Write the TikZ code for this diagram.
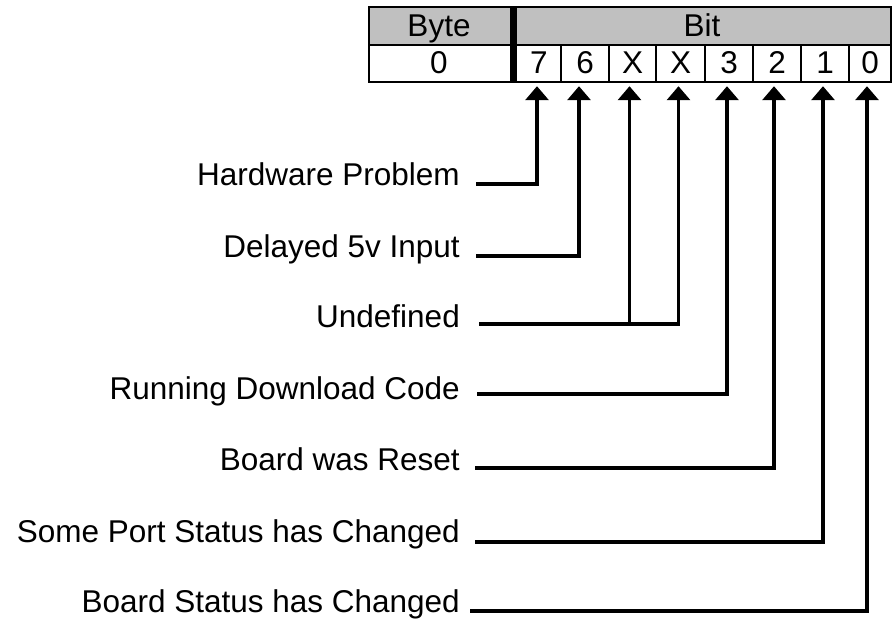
\documentclass[tikz,border=0pt]{standalone}
\usepackage{fontspec}
\setmainfont{Liberation Sans}
\usetikzlibrary{arrows.meta}
\definecolor{hdr}{RGB}{192,192,192}
\begin{document}
\begin{tikzpicture}[x=1pt,y=-1pt,
  font=\fontsize{31.5}{36}\selectfont,
  cell/.style={inner sep=0pt, text height=20pt, text depth=0pt, minimum height=37pt},
  lab/.style={anchor=base east, inner sep=0pt},
  conn/.style={line width=3.2pt, -{Triangle[width=23pt,length=14pt]}, shorten >=4pt},
  border/.style={line width=2.5pt},
  thin/.style={line width=1.6pt}]
\useasboundingbox (0,0) rectangle (893,622);
% table background
\fill[hdr] (369,7) rectangle (891,45);
\fill[white] (369,45) rectangle (891,82);
% cell nodes
\node[cell] (byteh) at (439,26) {Byte};
\node[cell] (bith) at (702,26) {Bit};
\node[cell] (byte0) at (439,63.5) {0};
\node[cell] (b7) at (539,63.5) {7};
\node[cell] (b6) at (585,63.5) {6};
\node[cell] (b5) at (632.5,63.5) {X};
\node[cell] (b4) at (680.5,63.5) {X};
\node[cell] (b3) at (729,63.5) {3};
\node[cell] (b2) at (777,63.5) {2};
\node[cell] (b1) at (825,63.5) {1};
\node[cell] (b0) at (870,63.5) {0};
% grid
\foreach \x in {561,609,656,705,753,801,849} \draw[thin] (\x,45) -- (\x,82);
\draw[border] (369,45) -- (891,45);
\draw[border] (369,7) rectangle (891,82);
\draw[line width=7pt] (513,7) -- (513,82);
% labels
\node[lab] (l7) at (460,185) {Hardware Problem};
\node[lab] (l6) at (460,257) {Delayed 5v Input};
\node[lab] (lx) at (460,327) {Undefined};
\node[lab] (l3) at (460,399) {Running Download Code};
\node[lab] (l2) at (460,470) {Board was Reset};
\node[lab] (l1) at (460,542) {Some Port Status has Changed};
\node[lab] (l0) at (460,612) {Board Status has Changed};
% connectors
\draw[conn] ([xshift=16pt,yshift=1pt]l7.base east) -| ([xshift=-2pt]b7.south);
\draw[conn] ([xshift=16pt,yshift=1pt]l6.base east) -| ([xshift=-6pt]b6.south);
\coordinate (xs) at ([xshift=19pt,yshift=3pt]lx.base east);
\coordinate (b5a) at ([xshift=-3pt]b5.south);
\draw[conn] (xs) -| ([xshift=-2pt]b4.south);
\draw[conn] (b5a |- xs) -- (b5a);
\draw[conn] ([xshift=17pt,yshift=5pt]l3.base east) -| ([xshift=-2pt]b3.south);
\draw[conn] ([xshift=15pt,yshift=2pt]l2.base east) -| ([xshift=-3pt]b2.south);
\draw[conn] ([xshift=15pt,yshift=0pt]l1.base east) -| ([xshift=-2pt]b1.south);
\draw[conn] ([xshift=10pt,yshift=1pt]l0.base east) -| ([xshift=-3pt]b0.south);
\end{tikzpicture}
\end{document}
